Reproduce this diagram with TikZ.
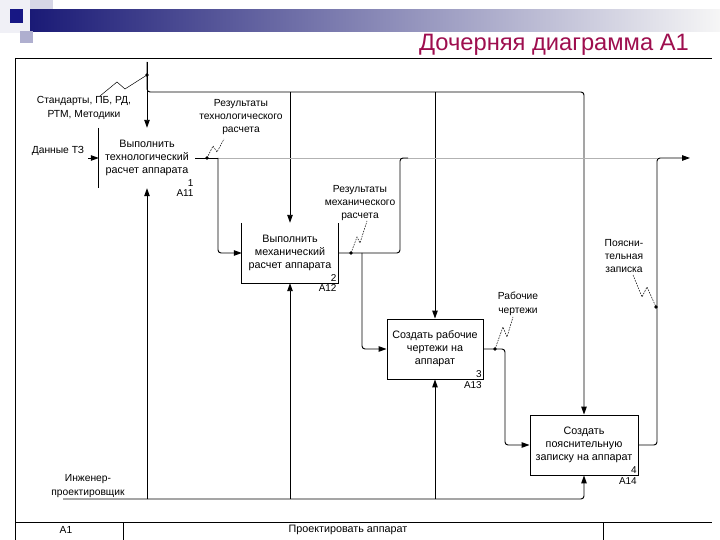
\documentclass[tikz,border=0pt]{standalone}
\usepackage{fontspec}
\setmainfont{Liberation Sans}
\usetikzlibrary{arrows.meta, positioning}

\definecolor{navy}{RGB}{26,26,118}
\definecolor{barmid}{RGB}{140,140,172}
\definecolor{barend}{RGB}{246,246,246}
\definecolor{titlered}{RGB}{158,14,78}

\begin{document}
\begin{tikzpicture}[
    x=1bp, y=-1bp,
    act/.style={rectangle, minimum width=96bp, minimum height=60bp,
                align=center, font=\fontsize{10.8}{13}\selectfont, inner sep=1bp},
    lbl/.style={align=center, font=\fontsize{10.3}{13.5}\selectfont, inner sep=1bp},
    num/.style={font=\fontsize{10}{11}\selectfont, inner sep=1.5bp},
    arr/.style={-{Triangle[length=8bp,width=5.5bp]}, line width=0.95bp},
    ln/.style={line width=0.95bp},
    sq/.style={line width=0.5bp},
    sqd/.style={line width=0.5bp, dash pattern=on 1.6bp off 1.1bp},
    jdot/.style={circle, fill, inner sep=0pt, minimum size=3.6bp}
]
\useasboundingbox (0,0) rectangle (720,540);

% header
\fill[barend!60!navy!15] (0,0) rectangle (30,33);
\fill[navy!18] (30,0) rectangle (53,20);
\shade[left color=navy, middle color=barmid, right color=barend] (30,10) rectangle (720,32);
\fill[navy!90!blue] (10,9) rectangle (23,23);
\fill[navy!35] (20,31) rectangle (33,43);
\node[text=titlered, font=\fontsize{23.8}{25}\selectfont, anchor=south east, inner sep=1bp] (title) at (690,57) {Дочерняя диаграмма А1};

% frame
\draw[line width=0.9bp] (15,58) -- (712,58);
\draw[line width=0.9bp] (15,58) -- (15,540);
\draw[line width=0.9bp] (15,522) -- (712,522);
\draw[line width=0.9bp] (123,522) -- (123,540);
\draw[line width=0.9bp] (603,522) -- (603,540);
\node[lbl] (nodeid) at (66,530) {А1};
\node[lbl, font=\fontsize{10.8}{13}\selectfont] (frametitle) at (348,530) {Проектировать аппарат};

% activities
\node[act] (b1) at (147,158) {Выполнить\\технологический\\расчет аппарата};
\node[act] (b2) at (290,253) {Выполнить\\механический\\расчет аппарата};
\node[act, draw, line width=0.9bp] (b3) at (435,349) {Создать рабочие\\чертежи на\\аппарат};
\node[act, draw, line width=0.9bp, minimum width=108bp] (b4) at (584,445) {Создать\\пояснительную\\записку на аппарат};
\draw[line width=0.9bp] (b1.north west) -- (b1.south west);
\draw[line width=0.9bp] (b2.north west) |- (b2.south east) -- (b2.north east);

\node[num, anchor=south east] (n1) at (b1.south east) {1};
\node[num, anchor=north east] (a1) at (b1.south east) {А11};
\node[num, anchor=south east] (n2) at (b2.south east) {2};
\node[num, anchor=north east] (a2) at (b2.south east) {А12};
\node[num, anchor=south east] (n3) at (b3.south east) {3};
\node[num, anchor=north east] (a3) at (b3.south east) {А13};
\node[num, anchor=south east] (n4) at (b4.south east) {4};
\node[num, anchor=north east] (a4) at (b4.south east) {А14};

% labels
\node[lbl] (lstd) at (84,108) {Стандарты, ПБ, РД,\\РТМ, Методики};
\node[lbl] (lin) at (58,151) {Данные ТЗ};
\node[lbl] (ltech) at (241,117) {Результаты\\технологического\\расчета};
\node[lbl] (lmech) at (360,203) {Результаты\\механического\\расчета};
\node[lbl] (ldraw) at (518,304) {Рабочие\\чертежи};
\node[lbl] (lnote) at (624,256) {Поясни-\\тельная\\записка};
\node[lbl] (leng) at (88,486) {Инженер-\\проектировщик};

% connection points
\coordinate (ctl) at (147,62);
\coordinate (cj) at (147,92);
\coordinate (in1) at (88,158);
\coordinate (tj) at (218,158);
\coordinate (tout) at (690,158);
\coordinate (nt) at (657,158);
\coordinate (mj) at (400,158);
\coordinate (m3) at (362,253);
\coordinate (dj) at (505,349);
\coordinate (mech) at (63,499);

% controls
\draw[arr] (ctl) -- (b1.north);
\draw[arr, rounded corners=3bp] (ctl) -- (cj) -| (b4.north);
\draw[arr] (b2.north |- cj) -- (b2.north);
\draw[arr] (b3.north |- cj) -- (b3.north);

% inputs and outputs
\draw[arr] (in1) -- (b1.west);
\draw[ln] (b1.east) -- (tj);
\draw[line width=0.95bp, black!30] (tj) -- (nt);
\draw[arr, rounded corners=3bp] (tj) |- (b2.west);
\draw[ln, rounded corners=3bp] (b2.east) -| (mj) -- ([xshift=8bp]mj);
\draw[arr, rounded corners=3bp] (m3) |- (b3.west);
\draw[arr, rounded corners=3bp] (b3.east) -- (dj) |- (b4.west);
\draw[arr, rounded corners=3bp] (b4.east) -| (nt) -- (tout);

% mechanism
\draw[arr, rounded corners=3bp] (mech) -| (b4.south);
\draw[arr] (b1.south |- mech) -- (b1.south);
\draw[arr] (b2.south |- mech) -- (b2.south);
\draw[arr] (b3.south |- mech) -- (b3.south);

% squiggles
\node[jdot] (d1) at (147,75) {};
\node[jdot] (d2) at (207,158) {};
\node[jdot] (d3) at (351,253) {};
\node[jdot] (d4) at (495,349) {};
\node[jdot] (d5) at (656,307) {};
\draw[sq] (100,96) -- (117,82) -- (125,89) -- (d1.center);
\draw[sqd] (d2.center) -- (213,146) -- (217,152) -- (224,139);
\draw[sqd] (d3.center) -- (357,237) -- (360,243) -- (367,221);
\draw[sqd] (d4.center) -- (503,327) -- (507,337) -- (513,317);
\draw[sqd] (633,275) -- (642,297) -- (647,287) -- (d5.center);
\end{tikzpicture}
\end{document}
